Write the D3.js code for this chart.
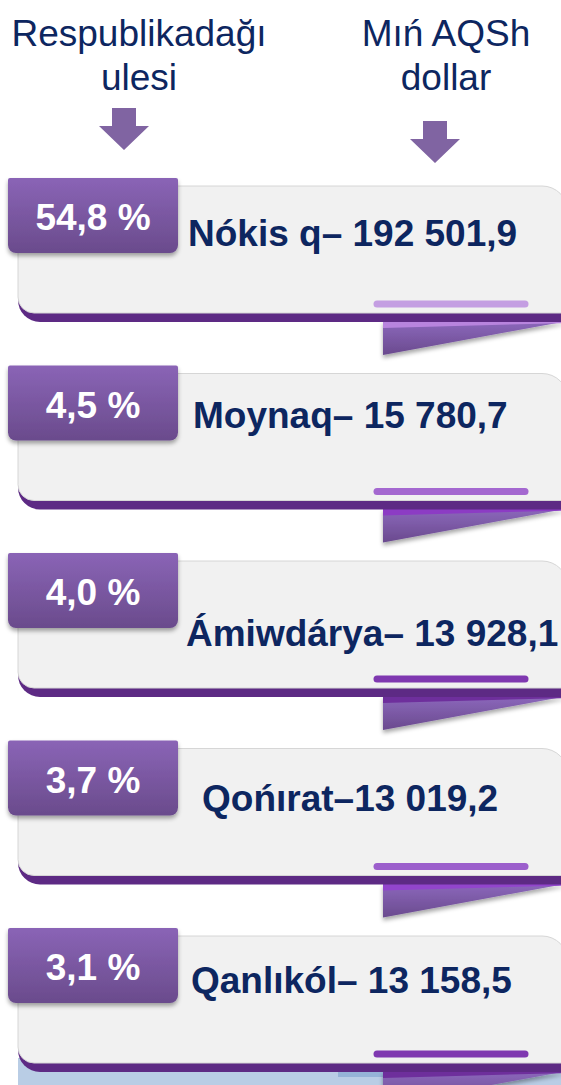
<!DOCTYPE html>
<html>
<head>
<meta charset="utf-8">
<script src="https://cdn.jsdelivr.net/npm/d3@7"></script>
<style>
  html, body { margin: 0; padding: 0; background: #ffffff; }
  svg { display: block; }
</style>
</head>
<body>
<script>
// ---- data ----
const districts = ["Nókis q", "Moynaq", "Ámiwdárya", "Qońırat", "Qanlıkól"];
const shares = [54.8, 4.5, 4.0, 3.7, 3.1];           // Respublikadağı ulesi, %
const values = [192501.9, 15780.7, 13928.1, 13019.2, 13158.5]; // Mıń AQSh dollar
const separators = ["– ", "– ", "– ", "–", "– "];
const headerLeft = ["Respublikadağı", "ulesi"];
const headerRight = ["Mıń AQSh", "dollar"];

// ---- layout / style ----
const W = 561, H = 1085;
const accentColors = ["#c49ee2", "#a468d0", "#7f38b0", "#9c5fcc", "#7f38b0"];
const stripColors = ["#b884de", "#8c3cc4", "#6e2f9c", "#9245cc", "#6e2f9c"];
const textX = [188, 193, 186, 202, 191];
const textDy = [68, 62, 93, 70, 65];
const navy = "#0d2660";

const loc = d3.formatLocale({decimal: ",", thousands: " ", grouping: [3], currency: ["", ""]});
const fmtVal = loc.format(",.1f");
const fmtPct = d => loc.format(".1f")(d) + " %";

const svg = d3.select("body").append("svg").attr("width", W).attr("height", H);
const defs = svg.append("defs");

const tagGrad = defs.append("linearGradient").attr("id", "tagGrad").attr("x1", 0).attr("y1", 0).attr("x2", 0).attr("y2", 1);
tagGrad.append("stop").attr("offset", "0%").attr("stop-color", "#8a64b6");
tagGrad.append("stop").attr("offset", "100%").attr("stop-color", "#6a4b8c");

const foldGrad = defs.append("linearGradient").attr("id", "foldGrad").attr("x1", 0).attr("y1", 0).attr("x2", 0).attr("y2", 1);
foldGrad.append("stop").attr("offset", "0%").attr("stop-color", "#8c68bc");
foldGrad.append("stop").attr("offset", "100%").attr("stop-color", "#6a4a8e");

const sh = defs.append("filter").attr("id", "shadow").attr("x", "-20%").attr("y", "-20%").attr("width", "140%").attr("height", "160%");
sh.append("feDropShadow").attr("dx", 0).attr("dy", 3).attr("stdDeviation", 2).attr("flood-color", "#000").attr("flood-opacity", 0.35);

// ---- header ----
const header = svg.append("g").attr("font-family", "'Liberation Sans', Arial, sans-serif")
  .attr("font-size", 37).attr("fill", navy).attr("text-anchor", "middle");
header.selectAll("text.hl").data(headerLeft).join("text").attr("class", "hl")
  .attr("x", 139).attr("y", (d, i) => 46 + i * 44).text(d => d);
header.selectAll("text.hr").data(headerRight).join("text").attr("class", "hr")
  .attr("x", 446).attr("y", (d, i) => 46 + i * 44).text(d => d);

function arrow(cx, top) {
  // shaft 24 wide, 18 tall; head 50 wide, 24 tall
  return `M${cx - 12},${top} H${cx + 12} V${top + 18} H${cx + 25} L${cx},${top + 42} L${cx - 25},${top + 18} H${cx - 12} Z`;
}
svg.append("path").attr("d", arrow(124, 108)).attr("fill", "#8064a2");
svg.append("path").attr("d", arrow(435, 121)).attr("fill", "#8064a2");

// ---- card positions via scale ----
const y = d3.scalePoint().domain(districts).range([178, 928]);

// light blue bottom strip behind last card
svg.append("rect").attr("x", 18).attr("y", 1058).attr("width", W - 18).attr("height", H - 1058).attr("fill", "#b9cde5");
svg.append("rect").attr("x", 338).attr("y", 1072).attr("width", 48).attr("height", 5).attr("fill", "#95b3d7");

const L = 18, R = 568;
const cards = svg.selectAll("g.card").data(districts).join("g").attr("class", "card");

cards.each(function (d, i) {
  const g = d3.select(this);
  const T = y(d);
  const top = T + 8, B = T + 135;

  // fold triangle
  g.append("path")
    .attr("d", `M383,${T + 143} L${R},${T + 143} L383,${T + 177} Z`)
    .attr("fill", "url(#foldGrad)").attr("filter", "url(#shadow)");
  g.append("path")
    .attr("d", `M383,${T + 143} L${R},${T + 143} L${R},${T + 145} L383,${T + 150} Z`)
    .attr("fill", stripColors[i]);

  // purple band under body
  const rb = 22;
  g.append("path")
    .attr("d", `M${L},${B - 14} H${R} V${B + 9} H${L + rb} A${rb},${rb} 0 0 1 ${L},${B + 9 - rb} Z`)
    .attr("fill", "#5d2a84");

  // body
  const rt = 26, rl = 16;
  g.append("path")
    .attr("d", `M${L},${top} H${R - rt} A${rt},${rt} 0 0 1 ${R},${top + rt} V${B} H${L + rl} A${rl},${rl} 0 0 1 ${L},${B - rl} Z`)
    .attr("fill", "#f1f1f1").attr("stroke", "#d6d6d6").attr("stroke-width", 1);

  // accent line
  g.append("line")
    .attr("x1", 377).attr("x2", 525).attr("y1", T + 126).attr("y2", T + 126)
    .attr("stroke", accentColors[i]).attr("stroke-width", 7).attr("stroke-linecap", "round");

  // tag
  g.append("path")
    .attr("d", `M8,${T + 2} Q8,${T} 10,${T} H176 Q178,${T} 178,${T + 2} V${T + 67} A8,8 0 0 1 170,${T + 75} H16 A8,8 0 0 1 8,${T + 67} Z`)
    .attr("fill", "url(#tagGrad)").attr("filter", "url(#shadow)");

  g.append("text")
    .attr("x", 93).attr("y", T + 52).attr("text-anchor", "middle")
    .attr("font-family", "'Liberation Sans', Arial, sans-serif").attr("font-weight", "bold")
    .attr("font-size", 37).attr("fill", "#ffffff")
    .text(fmtPct(shares[i]));

  g.append("text")
    .attr("x", textX[i]).attr("y", T + textDy[i])
    .attr("font-family", "'Liberation Sans', Arial, sans-serif").attr("font-weight", "bold")
    .attr("font-size", 37).attr("fill", navy)
    .text(d + separators[i] + fmtVal(values[i]));
});
</script>
</body>
</html>
